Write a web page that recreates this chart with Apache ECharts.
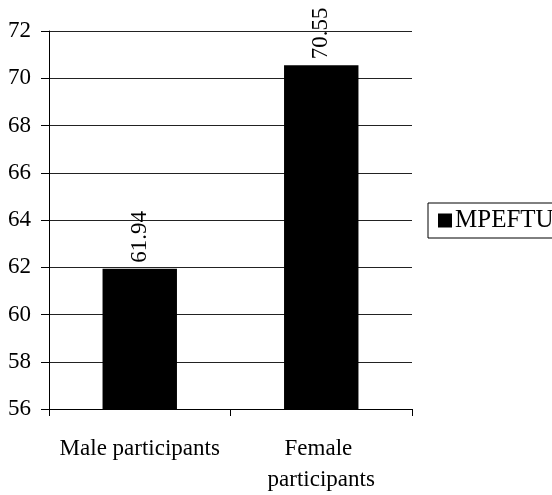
<!DOCTYPE html>
<html>
<head>
<meta charset="utf-8">
<script src="https://cdn.jsdelivr.net/npm/echarts@6/dist/echarts.min.js"></script>
<style>
html,body{margin:0;padding:0;background:#fff;}
#chart{width:552px;height:495px;}
</style>
</head>
<body>
<div id="chart"></div>
<script>
const categories = ["Male participants", "Female participants"];
const seriesName = "MPEFTU";
const values = [61.94, 70.55];
const yTicks = { min: 56, max: 72, interval: 2 };

const chart = echarts.init(document.getElementById('chart'), null, { renderer: 'canvas' });
const serif = '"Liberation Serif", "Times New Roman", serif';

chart.setOption({
  animation: false,
  backgroundColor: '#fff',
  grid: { left: 49, right: 140, top: 31, bottom: 85, containLabel: false },
  legend: {
    data: [seriesName],
    orient: 'vertical',
    left: 428,
    top: 203,
    padding: [5, 30, 5, 10],
    borderColor: '#000',
    borderWidth: 1,
    itemWidth: 14,
    itemHeight: 14,
    itemGap: 0,
    icon: 'rect',
    textStyle: { fontFamily: serif, fontSize: 25, color: '#000', padding: [0, 0, 0, -2] }
  },
  xAxis: {
    type: 'category',
    data: categories,
    axisLine: { lineStyle: { color: '#000', width: 1 } },
    axisTick: { show: true, length: 7, alignWithLabel: false, lineStyle: { color: '#000' } },
    axisLabel: {
      fontFamily: serif, fontSize: 23, color: '#000', margin: 24,
      lineHeight: 31, width: 165, overflow: 'break', interval: 0
    },
    splitLine: { show: false }
  },
  yAxis: {
    type: 'value',
    min: yTicks.min, max: yTicks.max, interval: yTicks.interval,
    axisLine: { show: true, lineStyle: { color: '#000', width: 1 } },
    axisTick: { show: true, length: 8, inside: false, lineStyle: { color: '#000' } },
    axisLabel: { fontFamily: serif, fontSize: 23, color: '#000', margin: 18 },
    splitLine: { show: true, lineStyle: { color: '#222', width: 1 } }
  },
  series: [{
    name: seriesName,
    type: 'bar',
    data: values,
    barWidth: '41%',
    itemStyle: { color: '#000' },
    label: {
      show: true,
      position: 'top',
      rotate: 90,
      align: 'left',
      verticalAlign: 'middle',
      distance: 6,
      fontFamily: serif,
      fontSize: 23,
      color: '#000',
      formatter: p => p.value.toFixed(2)
    }
  }]
});
</script>
</body>
</html>
